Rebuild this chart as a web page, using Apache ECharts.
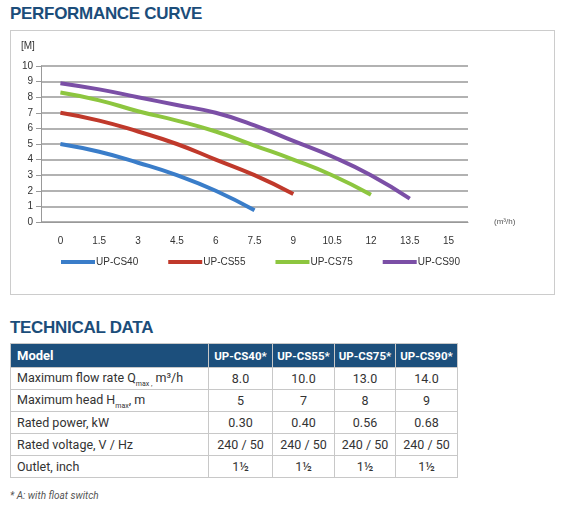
<!DOCTYPE html>
<html><head><meta charset="utf-8">
<script src="https://cdn.jsdelivr.net/npm/echarts@6/dist/echarts.min.js"></script>
<style>
body{margin:0;width:563px;height:507px;background:#fff;font-family:Roboto,"Liberation Sans",Arial,sans-serif;position:relative;overflow:hidden}
.h{position:absolute;left:10px;font-weight:bold;color:#1b4d7a;font-size:17px;letter-spacing:-0.3px;font-family:"Liberation Sans",Arial,sans-serif}
#c{position:absolute;left:10px;top:30px;width:545px;height:265px;border:1px solid #ccc;box-sizing:border-box}
table{position:absolute;left:10px;top:343px;border-collapse:collapse;table-layout:fixed;width:447px;font-size:12.5px;color:#333;white-space:nowrap}
td,th{border:1px solid #c8c8c8;padding:0 5px;height:22px;overflow:hidden;box-sizing:border-box}
th{background:#1c4f7c;color:#fff;font-size:11.5px;text-align:center;height:24px;padding:0 2px}
th:first-child{text-align:left;font-size:13px;padding-left:6px}
td{text-align:center;padding:0 2px}
td:first-child{text-align:left;padding-left:6px}
.f{position:absolute;left:10px;top:490px;font-size:10px;font-style:italic;color:#555}
</style></head><body>
<div class="h" style="top:4px">PERFORMANCE CURVE</div>
<div id="c"></div>
<div class="h" style="top:318px">TECHNICAL DATA</div>
<table id="t"></table>
<div class="f">* A: with float switch</div>
<script>
const flowLabels=['0','1.5','3','4.5','6','7.5','9','10.5','12','13.5','15'];
const seriesNames=['UP-CS40','UP-CS55','UP-CS75','UP-CS90'];
const colors=['#3a7dc9','#c0392b','#8dc63f','#7b4fa6'];
const cs40=[5,4.5,3.8,3,2,0.75];
const cs55=[7,6.5,5.8,5,4,3,1.8];
const cs75=[8.3,7.8,7.1,6.5,5.8,4.9,4,3,1.75];
const cs90=[8.9,8.5,8,7.5,7,6.2,5.2,4.2,3,1.5];
const tableHead=['Model','UP-CS40*','UP-CS55*','UP-CS75*','UP-CS90*'];
const tableRows=[
 ['Maximum flow rate Q<sub style="font-size:7px">max ,</sub> m³/h','8.0','10.0','13.0','14.0'],
 ['Maximum head H<sub style="font-size:7px">max</sub>, m','5','7','8','9'],
 ['Rated power, kW','0.30','0.40','0.56','0.68'],
 ['Rated voltage, V / Hz','240 / 50','240 / 50','240 / 50','240 / 50'],
 ['Outlet, inch','1½','1½','1½','1½']];
const widths=[198,64,62,61,62];
let h='<colgroup>'+widths.map(w=>`<col style="width:${w}px">`).join('')+'</colgroup>';
h+='<tr>'+tableHead.map(x=>`<th>${x}</th>`).join('')+'</tr>';
tableRows.forEach(r=>{h+='<tr>'+r.map(x=>`<td>${x}</td>`).join('')+'</tr>';});
document.getElementById('t').innerHTML=h;
const data=[cs40,cs55,cs75,cs90];
const ch=echarts.init(document.getElementById('c'));
ch.setOption({
 animation:false,
 grid:{left:30,right:86,top:35,bottom:72},
 graphic:[{type:'text',left:10,top:10,style:{text:'[M]',fontSize:10,fill:'#333'}},
  {type:'text',left:483,top:187,style:{text:'(m³/h)',fontSize:8,fill:'#555'}}],
 legend:{bottom:22,left:45,itemGap:30,itemWidth:34,itemHeight:4,icon:'rect',textStyle:{fontSize:10,color:'#333',padding:[0,0,0,-4]},data:seriesNames},
 xAxis:{type:'category',data:flowLabels,boundaryGap:true,
  axisLine:{lineStyle:{color:'#999'}},axisTick:{lineStyle:{color:'#999'}},
  axisLabel:{color:'#333',fontSize:10,margin:14}},
 yAxis:{type:'value',min:0,max:10,interval:1,
  axisLine:{show:true,lineStyle:{color:'#999'}},axisTick:{show:true,lineStyle:{color:'#999'}},
  axisLabel:{color:'#333',fontSize:10},splitLine:{lineStyle:{color:'#999',width:1.5}}},
 series:seriesNames.map((n,i)=>({name:n,type:'line',data:data[i],smooth:true,showSymbol:false,
  lineStyle:{width:4,color:colors[i]},itemStyle:{color:colors[i]}}))
});
</script></body></html>
